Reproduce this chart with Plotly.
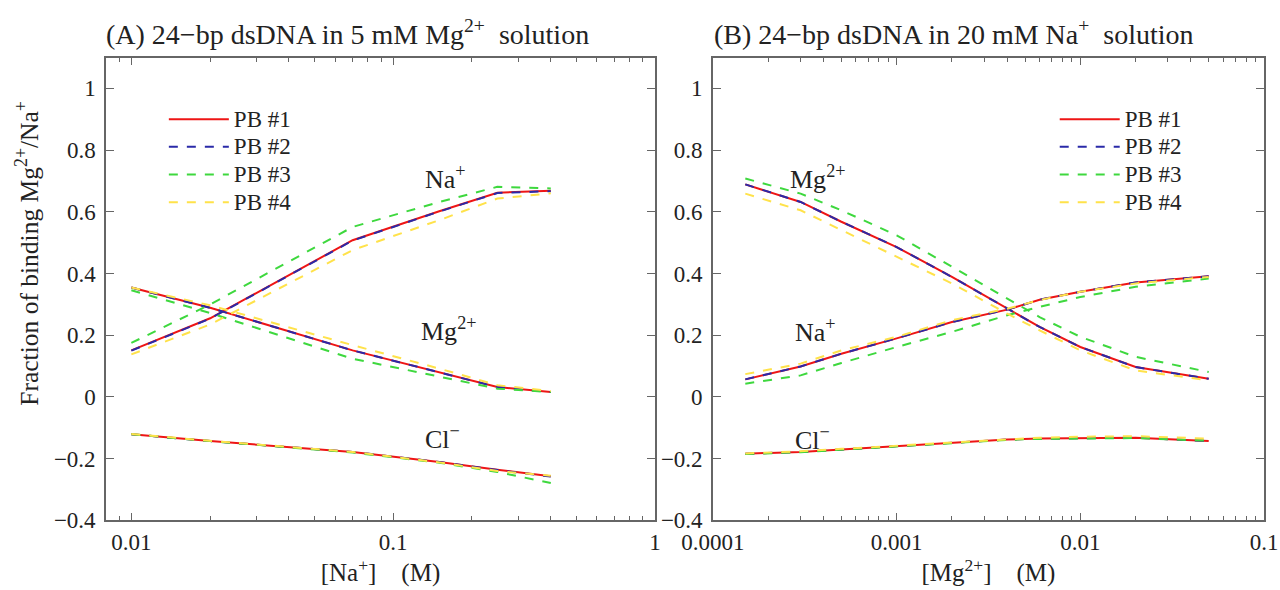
import plotly.graph_objects as go
import math

# ---------------- data ----------------
PB_NAMES = ["PB #1", "PB #2", "PB #3", "PB #4"]

# Panel A : 24-bp dsDNA in 5 mM Mg2+ ; x = [Na+] (M)
NA_CONC = [0.01, 0.02, 0.07, 0.15, 0.25, 0.4]
A_NA = [
    [0.151, 0.255, 0.508, 0.602, 0.662, 0.668],
    [0.150, 0.254, 0.507, 0.601, 0.661, 0.667],
    [0.175, 0.300, 0.551, 0.632, 0.681, 0.676],
    [0.138, 0.235, 0.476, 0.573, 0.643, 0.660],
]
A_MG = [
    [0.355, 0.289, 0.151, 0.081, 0.032, 0.016],
    [0.355, 0.289, 0.151, 0.081, 0.032, 0.016],
    [0.346, 0.272, 0.124, 0.065, 0.027, 0.016],
    [0.355, 0.297, 0.168, 0.092, 0.038, 0.019],
]
A_CL = [
    [-0.121, -0.143, -0.178, -0.211, -0.236, -0.257],
    [-0.121, -0.143, -0.178, -0.211, -0.237, -0.258],
    [-0.121, -0.143, -0.180, -0.213, -0.243, -0.279],
    [-0.120, -0.142, -0.178, -0.212, -0.240, -0.255],
]

# Panel B : 24-bp dsDNA in 20 mM Na+ ; x = [Mg2+] (M)
MG_CONC = [0.00015, 0.0003, 0.0005, 0.001, 0.002, 0.004, 0.006, 0.01, 0.02, 0.05]
B_MG = [
    [0.689, 0.632, 0.568, 0.486, 0.389, 0.286, 0.227, 0.162, 0.097, 0.059],
    [0.689, 0.632, 0.568, 0.486, 0.389, 0.286, 0.227, 0.162, 0.097, 0.059],
    [0.708, 0.659, 0.605, 0.524, 0.422, 0.319, 0.259, 0.195, 0.130, 0.081],
    [0.659, 0.605, 0.541, 0.454, 0.368, 0.270, 0.216, 0.151, 0.086, 0.054],
]
B_NA = [
    [0.057, 0.099, 0.140, 0.190, 0.243, 0.283, 0.315, 0.341, 0.371, 0.391],
    [0.057, 0.099, 0.140, 0.190, 0.243, 0.283, 0.315, 0.341, 0.371, 0.391],
    [0.043, 0.070, 0.110, 0.162, 0.211, 0.265, 0.292, 0.324, 0.357, 0.384],
    [0.074, 0.108, 0.151, 0.195, 0.249, 0.286, 0.314, 0.341, 0.368, 0.389],
]
B_CL = [
    [-0.184, -0.178, -0.170, -0.160, -0.148, -0.138, -0.135, -0.133, -0.132, -0.143],
    [-0.184, -0.178, -0.170, -0.160, -0.148, -0.138, -0.135, -0.133, -0.132, -0.143],
    [-0.185, -0.179, -0.171, -0.161, -0.149, -0.139, -0.136, -0.134, -0.133, -0.142],
    [-0.183, -0.176, -0.168, -0.158, -0.146, -0.136, -0.132, -0.129, -0.127, -0.135],
]

A_TICKS = [0.01, 0.1, 1]
A_TICKTEXT = ["0.01", "0.1", "1"]
B_TICKS = [0.0001, 0.001, 0.01, 0.1]
B_TICKTEXT = ["0.0001", "0.001", "0.01", "0.1"]

# ---------------- style ----------------
COLORS = ["#ee1515", "#2a2aa8", "#3ed83e", "#ffe24a"]
DASHES = ["solid", "dash", "dash", "dash"]
SERIF = "Liberation Serif"
TXT = "#222222"
FRAME = "#666666"

fig = go.Figure()

def add_panel(xvals, series_list, xa, ya, legend_name):
    for k in range(4):
        for j, series in enumerate(series_list):
            fig.add_trace(go.Scatter(
                x=xvals, y=series[k], mode="lines",
                line=dict(color=COLORS[k], width=2, dash=DASHES[k]),
                name="<span style='font-size:23px'>" + PB_NAMES[k] + "</span>",
                legendgroup=legend_name + str(k),
                showlegend=(j == 0), legend=legend_name,
                xaxis=xa, yaxis=ya,
            ))

add_panel(NA_CONC, [A_NA, A_MG, A_CL], "x", "y", "legend")
add_panel(MG_CONC, [B_MG, B_NA, B_CL], "x2", "y2", "legend2")

def minor_vals(lo_exp, hi_exp):
    return [m * 10 ** e for e in range(lo_exp, hi_exp) for m in range(2, 10)]

common_x = dict(type="log", showline=True, linecolor=FRAME, linewidth=1.5,
                mirror="allticks", ticks="inside", ticklen=8, tickcolor=FRAME,
                showgrid=False, zeroline=False, automargin=False,
                tickfont=dict(family=SERIF, size=23, color=TXT),
                title_font=dict(family=SERIF, size=25, color=TXT))
common_y = dict(range=[-0.4, 1.1], tick0=0, dtick=0.2, showline=True,
                linecolor=FRAME, linewidth=1.5, mirror="allticks",
                ticks="inside", ticklen=8, tickcolor=FRAME,
                showgrid=False, zeroline=False, automargin=False,
                ticklabelstandoff=4,
                tickfont=dict(family=SERIF, size=23, color=TXT))

YDOM = [0.118, 0.9024]
fig.update_layout(
    width=1280, height=590,
    margin=dict(l=0, r=0, t=0, b=0),
    paper_bgcolor="white", plot_bgcolor="white",
    xaxis=dict(common_x, domain=[0.0828, 0.5117], anchor="y",
               range=[math.log10(0.008), 0],
               tickvals=A_TICKS, ticktext=A_TICKTEXT,
               minor=dict(tickvals=minor_vals(-3, 0), ticks="inside", ticklen=5,
                          tickcolor=FRAME),
               title=dict(text="[Na<sup>+</sup>]\u00a0\u00a0\u00a0\u00a0(M)", standoff=2)),
    yaxis=dict(common_y, domain=YDOM, anchor="x"),
    xaxis2=dict(common_x, domain=[0.557, 0.9875], anchor="y2",
                range=[-4, -1],
                tickvals=B_TICKS, ticktext=B_TICKTEXT,
                minor=dict(tickvals=minor_vals(-4, -1), ticks="inside", ticklen=5,
                           tickcolor=FRAME),
                title=dict(text="[Mg<sup>2+</sup>]\u00a0\u00a0\u00a0\u00a0(M)", standoff=2)),
    yaxis2=dict(common_y, domain=YDOM, anchor="x2"),
    legend=dict(x=0.128, y=0.83, xanchor="left", yanchor="top",
                bgcolor="rgba(0,0,0,0)", font=dict(family=SERIF, size=19, color=TXT),
                tracegroupgap=0, itemwidth=60),
    legend2=dict(x=0.824, y=0.83, xanchor="left", yanchor="top",
                 bgcolor="rgba(0,0,0,0)", font=dict(family=SERIF, size=19, color=TXT),
                 tracegroupgap=0, itemwidth=60),
    showlegend=True,
)

# y-axis title
fig.add_annotation(x=28 / 1280, y=0.57, xref="paper", yref="paper",
                   xanchor="center", yanchor="middle", textangle=-90,
                   showarrow=False,
                   text="Fraction of binding Mg<sup>2+</sup>/Na<sup>+</sup>",
                   font=dict(family=SERIF, size=25.5, color=TXT))

ann_font = dict(family=SERIF, size=26, color=TXT)
labels = [
    ("x", "y", 0.158, 0.71, "Na<sup>+</sup>"),
    ("x", "y", 0.162, 0.22, "Mg<sup>2+</sup>"),
    ("x", "y", 0.155, -0.13, "Cl<sup>\u2212</sup>"),
    ("x2", "y2", 0.00037, 0.71, "Mg<sup>2+</sup>"),
    ("x2", "y2", 0.00036, 0.215, "Na<sup>+</sup>"),
    ("x2", "y2", 0.00035, -0.135, "Cl<sup>\u2212</sup>"),
]
for xr, yr, xv, yv, t in labels:
    fig.add_annotation(x=math.log10(xv), y=yv, xref=xr, yref=yr, text=t,
                       showarrow=False, font=ann_font)

fig.add_annotation(x=104 / 1280, y=0.945, xref="paper", yref="paper", xanchor="left",
                   yanchor="middle", showarrow=False,
                   text="(A) 24\u2212bp dsDNA in 5 mM Mg<sup>2+</sup>\u00a0 solution",
                   font=dict(family=SERIF, size=28, color=TXT))
fig.add_annotation(x=712 / 1280, y=0.945, xref="paper", yref="paper", xanchor="left",
                   yanchor="middle", showarrow=False,
                   text="(B) 24\u2212bp dsDNA in 20 mM Na<sup>+</sup>\u00a0 solution",
                   font=dict(family=SERIF, size=28, color=TXT))

fig.write_html("out.html")
